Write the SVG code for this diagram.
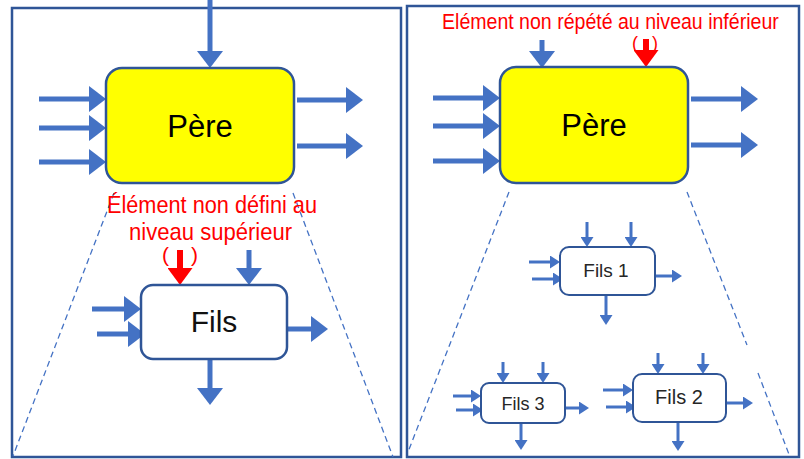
<svg xmlns="http://www.w3.org/2000/svg" width="804" height="459" viewBox="0 0 804 459">
<style>
.frame{fill:none;stroke:#2F5597;stroke-width:2.5}
.pere{fill:#FFFF00;stroke:#2F5597;stroke-width:2.5}
.fils{fill:#FFFFFF;stroke:#2F5597;stroke-width:2.5}
.filss{fill:#FFFFFF;stroke:#2F5597;stroke-width:2}
.dash{stroke:#4472C4;stroke-width:1.3;stroke-dasharray:6 4;fill:none}
.big{stroke:#4472C4;stroke-width:5;fill:none;marker-end:url(#hb)}
.small{stroke:#4472C4;stroke-width:3;fill:none;marker-end:url(#hs)}
.red{stroke:#FF0000;stroke-width:6;fill:none;marker-end:url(#hr)}
.t{font-family:"Liberation Sans",Arial,sans-serif;text-anchor:middle}
.rt{font-family:"Liberation Sans",Arial,sans-serif;fill:#FF0000}
</style>
<defs>
<marker id="hb" markerUnits="userSpaceOnUse" markerWidth="17" markerHeight="26" viewBox="0 0 17 26" refX="1" refY="13" orient="auto"><path d="M0,0 L17,13 L0,26 z" fill="#4472C4"/></marker>
<marker id="hs" markerUnits="userSpaceOnUse" markerWidth="10" markerHeight="13" viewBox="0 0 10 13" refX="1" refY="6.5" orient="auto"><path d="M0,0 L10,6.5 L0,13 z" fill="#4472C4"/></marker>
<marker id="hr" markerUnits="userSpaceOnUse" markerWidth="17" markerHeight="25" viewBox="0 0 17 25" refX="1" refY="12.5" orient="auto"><path d="M0,0 L17,12.5 L0,25 z" fill="#FF0000"/></marker>
</defs>
<rect width="804" height="459" fill="#FFFFFF"/>
<g id="frames">
<rect class="frame" x="12" y="8" width="389" height="449"/>
<rect class="frame" x="407" y="6" width="392" height="451"/>
</g>
<g id="zoom-lines">
<line class="dash" x1="114" y1="193" x2="13" y2="456"/>
<line class="dash" x1="293" y1="193" x2="393" y2="457"/>
<line class="dash" x1="509" y1="192" x2="408" y2="452"/>
<line class="dash" x1="687" y1="192" x2="747" y2="345"/>
<line class="dash" x1="758" y1="373" x2="790" y2="457"/>
</g>
<g id="connectors">
<line class="big" x1="210" y1="0" x2="210" y2="52"/>
<line class="big" x1="39" y1="99" x2="90" y2="99"/>
<line class="big" x1="39" y1="128" x2="90" y2="128"/>
<line class="big" x1="39" y1="162" x2="90" y2="162"/>
<line class="big" x1="297" y1="100" x2="347" y2="100"/>
<line class="big" x1="297" y1="146" x2="347" y2="146"/>
<line class="red" x1="180" y1="250" x2="180" y2="269"/>
<line class="big" x1="249" y1="250" x2="249" y2="269"/>
<line class="big" x1="92" y1="309" x2="125" y2="309"/>
<line class="big" x1="97" y1="334" x2="129" y2="334"/>
<line class="big" x1="280" y1="329" x2="312" y2="329"/>
<line class="big" x1="210" y1="359" x2="210" y2="389"/>
<line class="big" x1="542" y1="40" x2="542" y2="52"/>
<line class="red" x1="646" y1="39" x2="646" y2="51"/>
<line class="big" x1="433" y1="98" x2="484" y2="98"/>
<line class="big" x1="433" y1="126" x2="484" y2="126"/>
<line class="big" x1="433" y1="161" x2="484" y2="161"/>
<line class="big" x1="691" y1="99" x2="742" y2="99"/>
<line class="big" x1="691" y1="145" x2="742" y2="145"/>
<line class="small" x1="587" y1="222" x2="587" y2="238"/>
<line class="small" x1="631" y1="222" x2="631" y2="238"/>
<line class="small" x1="529" y1="262" x2="551" y2="262"/>
<line class="small" x1="532" y1="279" x2="554" y2="279"/>
<line class="small" x1="652" y1="276" x2="673" y2="276"/>
<line class="small" x1="606" y1="295" x2="606" y2="316"/>
<line class="small" x1="503" y1="362" x2="503" y2="374"/>
<line class="small" x1="543" y1="362" x2="543" y2="374"/>
<line class="small" x1="453" y1="396" x2="472" y2="396"/>
<line class="small" x1="456" y1="410" x2="474" y2="410"/>
<line class="small" x1="562" y1="408" x2="580" y2="408"/>
<line class="small" x1="521" y1="423" x2="521" y2="441"/>
<line class="small" x1="658" y1="353" x2="658" y2="365"/>
<line class="small" x1="703" y1="353" x2="703" y2="365"/>
<line class="small" x1="603" y1="390" x2="624" y2="390"/>
<line class="small" x1="606" y1="407" x2="627" y2="407"/>
<line class="small" x1="723" y1="403" x2="744" y2="403"/>
<line class="small" x1="678" y1="422" x2="678" y2="442"/>
</g>
<g id="pere-left">
<rect class="pere" x="106" y="68" width="188" height="115" rx="16"/>
<text class="t" x="200" y="137" font-size="31" fill="#000000">Père</text>
</g>
<g id="fils-left">
<rect class="fils" x="141" y="285" width="146" height="74" rx="12"/>
<text class="t" x="214" y="332" font-size="30" fill="#111111">Fils</text>
</g>
<g id="note-left">
<text class="rt" transform="translate(107,213) scale(0.905,1)" x="0" y="0" font-size="24">Élément non défini au</text>
<text class="rt" transform="translate(129,240) scale(0.92,1)" x="0" y="0" font-size="24">niveau supérieur</text>
<text class="rt" font-size="21"><tspan x="162" y="262">(</tspan><tspan x="191" y="262">)</tspan></text>
</g>
<g id="pere-right">
<rect class="pere" x="500" y="67" width="188" height="116" rx="16"/>
<text class="t" x="594" y="136" font-size="31" fill="#000000">Père</text>
</g>
<g id="note-right">
<text class="rt" transform="translate(442,28.5) scale(0.889,1)" x="0" y="0" font-size="22">Elément non répété au niveau inférieur</text>
<text class="rt" font-size="18"><tspan x="632" y="49">(</tspan><tspan x="652" y="49">)</tspan></text>
</g>
<g id="fils1">
<rect class="filss" x="560" y="247" width="95" height="48" rx="9"/>
<text class="t" x="606" y="277" font-size="19" fill="#262626">Fils 1</text>
</g>
<g id="fils3">
<rect class="filss" x="481" y="383" width="84" height="40" rx="8"/>
<text class="t" x="523" y="410" font-size="18" fill="#262626">Fils 3</text>
</g>
<g id="fils2">
<rect class="filss" x="633" y="374" width="93" height="48" rx="9"/>
<text class="t" x="679" y="404" font-size="20" fill="#262626">Fils 2</text>
</g>
</svg>
